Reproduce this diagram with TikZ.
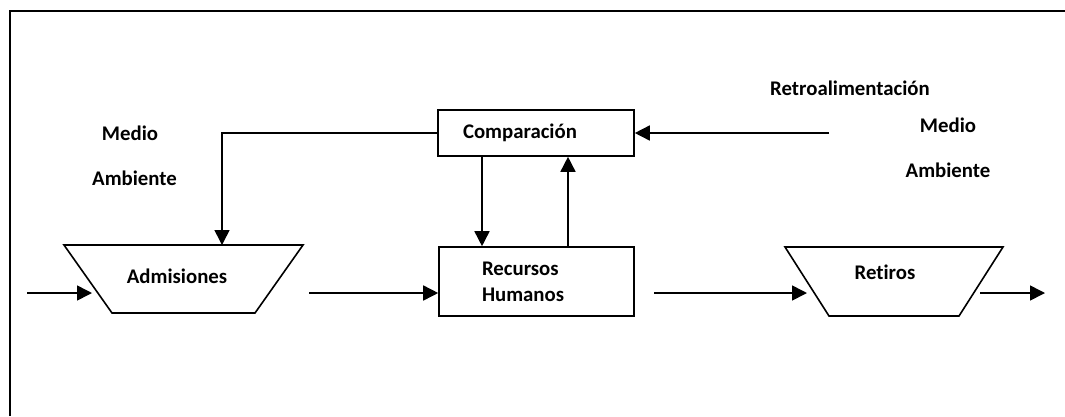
\documentclass[tikz,border=0pt]{standalone}
\usepackage{fontspec}
\setmainfont[Ligatures=NoCommon]{Carlito}
\usetikzlibrary{arrows.meta,calc}
\begin{document}
\begin{tikzpicture}[x=1pt,y=-1pt,
  lbl/.style={font=\fontsize{20.8}{26}\selectfont\bfseries, inner sep=0pt},
  box/.style={draw, line width=1.6pt, inner ysep=0pt, align=left,
    font=\fontsize{20.8}{26}\selectfont\bfseries},
  shapeline/.style={line width=1.6pt, line join=miter},
  flow/.style={line width=1.6pt, -{Triangle[length=15pt,width=15pt]}},
  link/.style={line width=1.6pt}]
  \useasboundingbox (0,0) rectangle (1065,416);
  % frame
  \draw[line width=2.4pt] (10,416) -- (10,11) -- (1065,11);

  % boxes
  \node[box, minimum height=46pt, text width=146pt, inner xsep=25pt] (comp) at (536,133) {Comparación};
  \node[box, minimum height=69pt, text width=109pt, inner xsep=43pt] (rh) at (536.5,281.5) {Recursos\\Humanos};

  % trapezoids
  \coordinate (admTL) at (64,245);  \coordinate (admTR) at (303,245);
  \coordinate (admBR) at (255,313); \coordinate (admBL) at (112,313);
  \draw[shapeline] (admTL) -- (admTR) -- (admBR) -- (admBL) -- cycle;
  \node[lbl] (adm) at (177,276) {Admisiones};

  \coordinate (retTL) at (785,247); \coordinate (retTR) at (1003,247);
  \coordinate (retBR) at (959,316); \coordinate (retBL) at (829,316);
  \draw[shapeline] (retTL) -- (retTR) -- (retBR) -- (retBL) -- cycle;
  \node[lbl] (ret) at (885,272) {Retiros};

  % texts
  \node[lbl] (medioL) at (130,133) {Medio};
  \node[lbl] (ambL) at (134.5,178) {Ambiente};
  \node[lbl] (retro) at (850,88) {Retroalimentación};
  \node[lbl] (medioR) at (948,125) {Medio};
  \node[lbl] (ambR) at (948,170) {Ambiente};

  % connector end points
  \coordinate (inS) at (27,293);
  \coordinate (admIn) at (92,293);
  \coordinate (admOut) at (309,293);
  \coordinate (rhOut) at (654,293);
  \coordinate (retIn) at (807,293);
  \coordinate (retOut) at (980,293);
  \coordinate (outE) at (1045,293);
  \coordinate (fbS) at (829,133);
  \coordinate (corner) at (222,133);
  \coordinate (admTop) at (222,245);

  % main flow
  \draw[flow] (inS) -- (admIn);
  \draw[flow] (admOut) -- (admOut -| rh.west);
  \draw[flow] (rhOut) -- (retIn);
  \draw[flow] (retOut) -- (outE);

  % feedback
  \draw[flow] (fbS) -- (comp.east);
  \draw[flow] (comp.west) -- (corner) -- (admTop);
  \draw[flow] (comp.south -| 482,0) -- (rh.north -| 482,0);
  \draw[flow] (rh.north -| 568,0) -- (comp.south -| 568,0);
\end{tikzpicture}
\end{document}
